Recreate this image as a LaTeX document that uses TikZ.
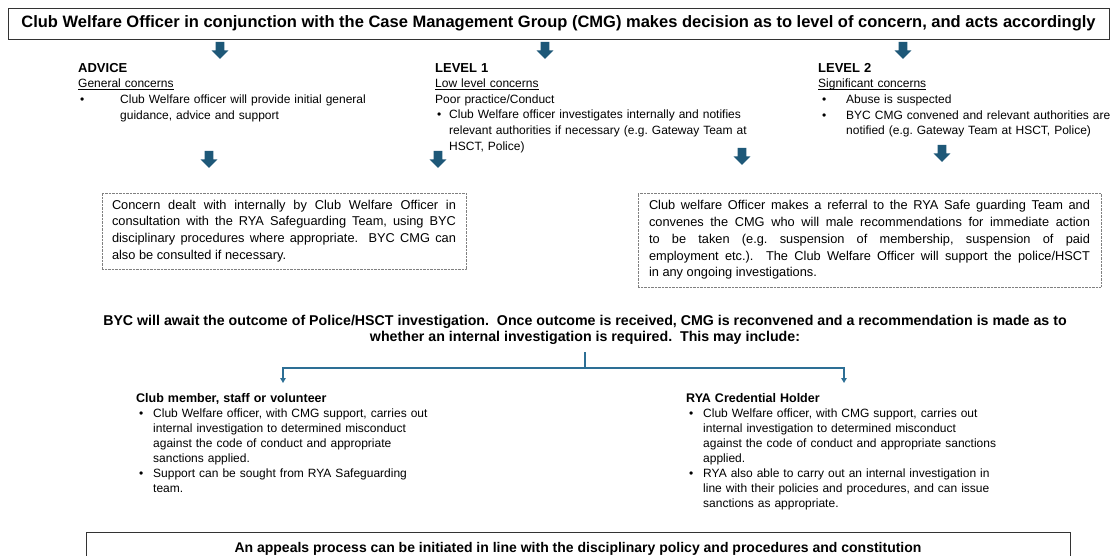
\documentclass[tikz,border=0pt]{standalone}
\usepackage{fontspec}
\setmainfont{Liberation Sans}
\usetikzlibrary{positioning,arrows.meta,calc}
\definecolor{cblock}{HTML}{1E5878}
\definecolor{clink}{HTML}{2D6F95}
\definecolor{cframe}{HTML}{333333}
\definecolor{cdots}{HTML}{808080}
% underlined sub heading, rule close to the baseline
\newcommand\subhead[1]{\par\noindent\setbox0\hbox{#1}\rlap{\rule[-1.6pt]{\wd0}{0.6pt}}\box0\par}
% bullet item: bullet offset, text indent, text
\newcommand\bitem[3]{\par\noindent\hangindent=#2\hangafter=1\hbox to #2{\hspace*{#1}\textbullet\hfil}#3\par}
\tikzset{
  banner/.style={rectangle, draw=cframe, line width=0.9pt, inner sep=0pt, font=\bfseries\fontsize{16.5}{19}\selectfont},
  tier/.style={anchor=north west, inner sep=0pt, align=left, text width=#1, font=\fontsize{12}{15.6}\selectfont},
  notebox/.style={rectangle, draw=cdots, dash pattern=on 0.7pt off 0.7pt, line width=0.6pt, inner xsep=10pt, inner ysep=0pt, align=justify, font=\fontsize{12.8}{16.7}\selectfont},
  outcome/.style={inner sep=0pt, align=center, font=\bfseries\fontsize{14.2}{16}\selectfont},
  wire/.style={draw=clink, line width=1.2pt, -{Triangle[width=5.5pt,length=5pt]}},
  blockarrow/.pic={\fill[cblock] (-4.3,0) -- (4.3,0) -- (4.3,8.5) -- (8.3,8.5) -- (0,17) -- (-8.3,8.5) -- (-4.3,8.5) -- cycle;}
}
\begin{document}
\frenchspacing
\begin{tikzpicture}[x=1pt,y=-1pt]
\useasboundingbox (0,0) rectangle (1120,556);

% decision banner
\node[banner, minimum width=1101pt, minimum height=31.5pt] (cwo) at (558.5,23.75)
  {Club Welfare Officer in conjunction with the Case Management Group (CMG) makes decision as to level of concern, and acts accordingly};
\pic at (220,42) {blockarrow};
\pic at (545,42) {blockarrow};
\pic at (903,42) {blockarrow};

% three levels of concern
\node[tier=330pt] (advice) at (78,63) {{\bfseries\fontsize{13}{15.6}\selectfont ADVICE}\par
  \subhead{General concerns}
  \bitem{2pt}{42pt}{Club Welfare officer will provide initial general\newline guidance, advice and support}};
\node[tier=340pt] (lvlone) at (435,63) {{\bfseries\fontsize{13}{15.6}\selectfont LEVEL 1}\par
  \subhead{Low level concerns}
  Poor practice/Conduct\par
  \bitem{2pt}{14pt}{Club Welfare officer investigates internally and notifies\newline relevant authorities if necessary (e.g. Gateway Team at\newline HSCT, Police)}};
\node[tier=300pt] (lvltwo) at (818,63) {{\bfseries\fontsize{13}{15.6}\selectfont LEVEL 2}\par
  \subhead{Significant concerns}
  \bitem{4pt}{28pt}{Abuse is suspected}
  \bitem{4pt}{28pt}{BYC CMG convened and relevant authorities are\newline notified (e.g. Gateway Team at HSCT, Police)}};

\pic at (209,151) {blockarrow};
\pic at (438,151) {blockarrow};
\pic at (742,148) {blockarrow};
\pic at (942,145) {blockarrow};

% internal handling and referral
\node[notebox, text width=344pt, minimum height=76pt] (internal) at (284,231)
  {Concern dealt with internally by Club Welfare Officer in\linebreak consultation with the RYA Safeguarding Team, using BYC\linebreak disciplinary procedures where appropriate.~ BYC CMG can\linebreak also be consulted if necessary.};
\node[notebox, inner xsep=11pt, text width=441pt, minimum height=94pt] (referral) at (869.5,240)
  {Club welfare Officer makes a referral to the RYA Safe guarding Team and\linebreak convenes the CMG who will male recommendations for immediate action\linebreak to be taken (e.g. suspension of membership, suspension of paid\linebreak employment etc.).~ The Club Welfare Officer will support the police/HSCT\linebreak in any ongoing investigations.};

% outcome and split
\node[outcome] (await) at (585,329.5)
  {BYC will await the outcome of Police/HSCT investigation.~ Once outcome is received, CMG is reconvened and a recommendation is made as to\\
   whether an internal investigation is required.~ This may include:};
\coordinate (drop) at (585,352);
\coordinate (fork) at (585,368);
\coordinate (tipmember) at (283,383);
\coordinate (tiprya) at (844,383);
\draw[wire] (drop) -- (fork) -| (tipmember);
\draw[wire] (fork) -| (tiprya);

\node[tier=360pt, font=\fontsize{12}{15}\selectfont] (member) at (136,393) {{\bfseries\fontsize{12.5}{15}\selectfont Club member, staff or volunteer}\par
  \bitem{3pt}{17pt}{Club Welfare officer, with CMG support, carries out\newline internal investigation to determined misconduct\newline against the code of conduct and appropriate\newline sanctions applied.}
  \bitem{3pt}{17pt}{Support can be sought from RYA Safeguarding\newline team.}};
\node[tier=400pt, font=\fontsize{12}{15}\selectfont] (credential) at (686,393) {{\bfseries\fontsize{12.5}{15}\selectfont RYA Credential Holder}\par
  \bitem{3pt}{17pt}{Club Welfare officer, with CMG support, carries out\newline internal investigation to determined misconduct\newline against the code of conduct and appropriate sanctions\newline applied.}
  \bitem{3pt}{17pt}{RYA also able to carry out an internal investigation in\newline line with their policies and procedures, and can issue\newline sanctions as appropriate.}};

% appeals
\node[banner, font=\bfseries\fontsize{14}{16}\selectfont, minimum width=984pt, minimum height=34pt, line width=0.8pt] (appeal) at (578,549)
  {An appeals process can be initiated in line with the disciplinary policy and procedures and constitution};
\end{tikzpicture}
\end{document}
